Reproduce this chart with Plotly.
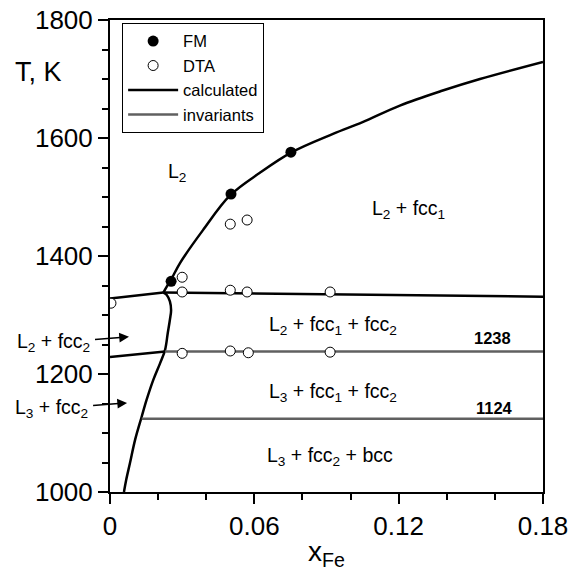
import plotly.graph_objects as go

# ---------------- data ----------------
fm_x = [0.0254, 0.0503, 0.0752]
fm_T = [1357, 1505, 1576]

dta_x = [0.0004, 0.030, 0.030, 0.030, 0.050, 0.057, 0.050, 0.057, 0.0915, 0.050, 0.0575, 0.0915]
dta_T = [1320, 1364, 1339, 1235, 1454, 1461, 1342, 1339, 1339, 1239, 1236, 1237]

liq_x = [0.0222, 0.0236, 0.0254, 0.0291, 0.0385, 0.0500, 0.0623, 0.0756, 0.0927, 0.1050, 0.1205, 0.1380, 0.1538, 0.1800]
liq_T = [1338, 1348, 1360, 1388, 1443, 1503, 1541, 1576, 1607, 1627, 1655, 1680, 1700, 1729]

mono_x = [0.0222, 0.1800]
mono_T = [1338, 1331]

upleft_x = [0.0, 0.0222]
upleft_T = [1328, 1338]

lowleft_x = [0.0, 0.0229]
lowleft_T = [1229, 1238]

fcc2_x = [0.0222, 0.0236, 0.0249, 0.0254, 0.0249, 0.0240, 0.0229, 0.0208, 0.0180, 0.0152, 0.0132, 0.0104, 0.0083, 0.0067, 0.0058]
fcc2_T = [1338, 1334, 1323, 1308, 1292, 1269, 1241, 1218, 1190, 1156, 1128, 1088, 1049, 1020, 1000]

inv1_x = [0.0229, 0.18]
inv1_T = [1238, 1238]
inv2_x = [0.0132, 0.18]
inv2_T = [1124, 1124]

x_ticks = [0, 0.06, 0.12, 0.18]
x_tick_labels = ["0", "0.06", "0.12", "0.18"]
y_ticks = [1000, 1200, 1400, 1600, 1800]

region_labels = ["L<sub>2</sub>", "L<sub>2</sub> + fcc<sub>1</sub>", "L<sub>2</sub> + fcc<sub>1</sub> + fcc<sub>2</sub>",
                 "L<sub>3</sub> + fcc<sub>1</sub> + fcc<sub>2</sub>", "L<sub>3</sub> + fcc<sub>2</sub> + bcc"]
region_x = [0.028, 0.124, 0.0927, 0.0927, 0.0914]
region_T = [1542, 1478, 1283, 1168, 1061]

inv_labels = ["1238", "1124"]
inv_label_x = [0.159, 0.160]
inv_label_T = [1261, 1142]

arrow_labels = ["L<sub>2</sub> + fcc<sub>2</sub>", "L<sub>3</sub> + fcc<sub>2</sub>"]
arrow_x = [0.0079, 0.0071]
arrow_T = [1263, 1151]

# ---------------- figure ----------------
FONT = "Liberation Sans, Arial, sans-serif"
BLACK = "#000000"
GRAY = "#606060"

fig = go.Figure()

calc_curves = [(liq_x, liq_T, "spline"), (mono_x, mono_T, "linear"), (upleft_x, upleft_T, "linear"),
               (lowleft_x, lowleft_T, "linear"), (fcc2_x, fcc2_T, "spline")]
for i, (cx, cy, shape) in enumerate(calc_curves):
    fig.add_trace(go.Scatter(x=cx, y=cy, mode="lines", name="calculated",
                             line=dict(color=BLACK, width=2.5, shape=shape),
                             legendgroup="calc", showlegend=(i == 0), legendrank=3))

for i, (cx, cy) in enumerate([(inv1_x, inv1_T), (inv2_x, inv2_T)]):
    fig.add_trace(go.Scatter(x=cx, y=cy, mode="lines", name="invariants",
                             line=dict(color=GRAY, width=2.5),
                             legendgroup="inv", showlegend=(i == 0), legendrank=4))

fig.add_trace(go.Scatter(x=fm_x, y=fm_T, mode="markers", name="FM",
                         marker=dict(symbol="circle", size=11, color=BLACK), legendrank=1))
fig.add_trace(go.Scatter(x=dta_x, y=dta_T, mode="markers", name="DTA",
                         marker=dict(symbol="circle", size=10, color="white",
                                     line=dict(color=BLACK, width=1)), legendrank=2))

for t, x, y in zip(region_labels, region_x, region_T):
    fig.add_annotation(x=x, y=y, text=t, showarrow=False, font=dict(size=19.5, color=BLACK, family=FONT))

for t, x, y in zip(inv_labels, inv_label_x, inv_label_T):
    fig.add_annotation(x=x, y=y, text="<b>" + t + "</b>", showarrow=False,
                       font=dict(size=16.5, color=BLACK, family=FONT))

for t, x, y in zip(arrow_labels, arrow_x, arrow_T):
    fig.add_annotation(x=x, y=y, text=t, showarrow=True, ax=-76, ay=6,
                       arrowhead=2, arrowsize=1.3, arrowwidth=1.5, arrowcolor=BLACK,
                       standoff=0, startstandoff=4,
                       font=dict(size=19.5, color=BLACK, family=FONT))

fig.add_annotation(xref="paper", yref="paper", x=-0.166, y=0.89, text="T, K", showarrow=False,
                   xanchor="center", yanchor="middle", font=dict(size=27, color=BLACK, family=FONT))
fig.add_annotation(xref="paper", yref="paper", x=0.5, y=-0.13, text="x<sub>Fe</sub>", showarrow=False,
                   xanchor="center", yanchor="middle", font=dict(size=28, color=BLACK, family=FONT))

fig.update_layout(
    width=585, height=572,
    margin=dict(l=110, r=42, t=20, b=80, autoexpand=False),
    paper_bgcolor="white", plot_bgcolor="white",
    font=dict(family=FONT, color=BLACK),
    legend=dict(x=0.028, y=0.994, xanchor="left", yanchor="top",
                bordercolor=BLACK, borderwidth=1, bgcolor="white",
                font=dict(size=16.5, color=BLACK, family=FONT),
                tracegroupgap=0, itemwidth=50),
    xaxis=dict(range=[0, 0.18], tickvals=x_ticks, ticktext=x_tick_labels, automargin=False,
               ticklabeloverflow="allow",
               ticks="outside", ticklen=10, tickwidth=2, tickcolor=BLACK,
               minor=dict(dtick=0.02, ticks="outside", ticklen=6, tickwidth=2, tickcolor=BLACK, showgrid=False),
               showline=True, linecolor=BLACK, linewidth=2, mirror=True,
               showgrid=False, zeroline=False,
               tickfont=dict(size=26, color=BLACK, family=FONT)),
    yaxis=dict(range=[1000, 1800], tickvals=y_ticks, automargin=False,
               ticklabeloverflow="allow",
               ticks="outside", ticklen=10, tickwidth=2, tickcolor=BLACK,
               minor=dict(dtick=50, ticks="outside", ticklen=6, tickwidth=2, tickcolor=BLACK, showgrid=False),
               showline=True, linecolor=BLACK, linewidth=2, mirror=True,
               showgrid=False, zeroline=False,
               tickfont=dict(size=26, color=BLACK, family=FONT)),
)

fig.write_html("out.html", config={"displayModeBar": False},
               post_script="document.body.style.margin='0';document.body.style.overflow='hidden';")
